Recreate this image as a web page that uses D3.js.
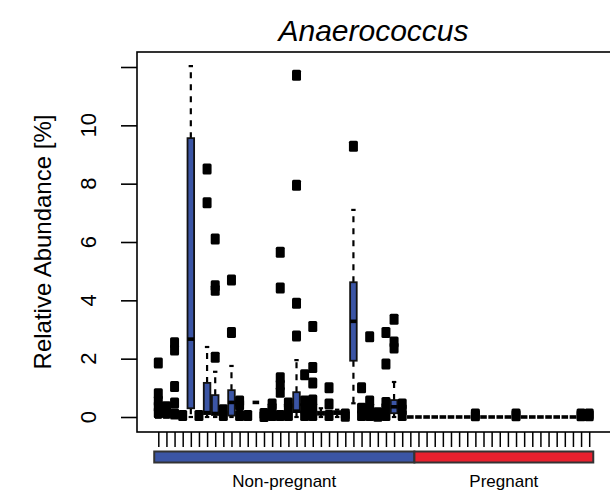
<!DOCTYPE html>
<html><head><meta charset="utf-8">
<script src="https://cdn.jsdelivr.net/npm/d3@7"></script>
<style>body{margin:0;background:#fff}svg{display:block}text{font-family:"Liberation Sans",Arial,Helvetica,sans-serif;fill:#000}</style>
</head><body>
<svg id="chart" width="610" height="497"></svg>
<script>
const title = "Anaerococcus";
const yLabel = "Relative Abundance [%]";
const groups = ["Non-pregnant", "Pregnant"];
const groupSizes = [32, 22];
const groupColors = ["#3b55a5", "#e8202e"];
const yTicks = [0, 2, 4, 6, 8, 10, 12];
const yTickLabels = ["0", "2", "4", "6", "8", "10", ""];

// per-subject box summaries (subjects 1..54, left to right)
const whiskerLow = [0,0,0,0,0,0,0,0,0,0, 0,0,0.5,0,0,0,0,0,0,0, 0,0,0,0,0.47,0,0,0,0,0, 0,0,
  0,0,0,0,0,0,0,0,0,0, 0,0,0,0,0,0,0,0,0,0, 0,0];
const q1 = [0,0,0,0,0.3,0,0.1,0.07,0,0.05, 0,0,0.5,0,0,0,0,0.17,0,0, 0.08,0,0.1,0,1.93,0,0,0,0,0.13, 0,0,
  0,0,0,0,0,0,0,0,0,0, 0,0,0,0,0,0,0,0,0,0, 0,0];
const median = [0,0,0,0,2.67,0,0.15,0.12,0,0.5, 0,0,0.5,0,0,0,0,0.2,0,0, 0.12,0,0.15,0,3.28,0,0,0,0,0.35, 0,0,
  0,0,0,0,0,0,0,0,0,0, 0,0,0,0,0,0,0,0,0,0, 0,0];
const q3 = [0,0,0,0,9.56,0,1.17,0.75,0,0.92, 0,0,0.5,0,0,0,0,0.85,0,0, 0.18,0,0.2,0,4.62,0,0,0,0,0.58, 0,0,
  0,0,0,0,0,0,0,0,0,0, 0,0,0,0,0,0,0,0,0,0, 0,0];
const whiskerHigh = [0,0,0,0,12.03,0,2.4,1.55,0,1.75, 0,0,0.5,0,0,0,0,1.95,0,0, 0.3,0,0.25,0,7.1,0,0,0,0,1.2, 0,0,
  0,0,0,0,0,0,0,0,0,0, 0,0,0,0,0,0,0,0,0,0, 0,0];
const outliers = [
  [1.85,0.8,0.55,0.35,0.15], [0.35,0.15], [2.55,2.3,1.05,0.48,0.1], [0.05], [], [0.05],
  [8.5,7.35], [6.1,4.5,4.35,2.05], [0.25,0.05], [4.7,2.9], [0.55,0.42,0.05], [0.05],
  [], [0.12,0.02], [0.45,0.3,0.05], [5.65,4.42,1.35,1.1,0.85,0.05], [0.48,0.3,0.05],
  [11.72,7.95,3.9,2.78], [1.45,0.55,0.3,0.05], [3.1,1.7,1.17,0.58,0.3,0.05], [],
  [1.0,0.45,0.05], [], [0.1,0.03], [9.28], [1.0,0.3,0.05], [2.75,0.55,0.3,0.05],
  [0.15,0.03], [2.9,1.82,0.5,0.3,0.05], [3.35,2.57,2.37], [0.45,0.25,0.05], [],
  [],[],[],[],[],[],[], [0.1,0.04], [],[],[],[], [0.1,0.04], [],[],[],[],[],[],[], [0.1,0.04], [0.1,0.04]
];

const subjects = whiskerLow.map((_, i) => "S" + (i + 1));
const groupOf = subjects.map((_, i) => i < groupSizes[0] ? 0 : 1);

const svg = d3.select("#chart");
const plot = {left: 137, right: 612, top: 52, bottom: 432};

const x = d3.scalePoint().domain(subjects).range([158.3, 589.2]);
const step = x.step();
const y = d3.scaleLinear().domain([0, 12]).range([417, 67]);
const bw = 6.6;

// frame
svg.append("rect").attr("x", plot.left).attr("y", plot.top)
  .attr("width", plot.right - plot.left).attr("height", plot.bottom - plot.top)
  .attr("fill", "none").attr("stroke", "#000").attr("stroke-width", 1.6);

// y axis
const yAxis = svg.append("g").attr("transform", `translate(${plot.left},0)`)
  .call(d3.axisLeft(y).tickValues(yTicks).tickSize(16).tickFormat(""));
yAxis.select(".domain").remove();
yAxis.selectAll(".tick line").attr("stroke", "#000").attr("stroke-width", 1.6);
svg.append("g").selectAll("text").data(yTicks).join("text")
  .attr("transform", d => `translate(96,${y(d)}) rotate(-90)`)
  .attr("text-anchor", "middle").attr("font-size", 22)
  .text((d, i) => yTickLabels[i]);

// x axis ticks
const xAxis = svg.append("g").attr("transform", `translate(0,${plot.bottom})`)
  .call(d3.axisBottom(x).tickSize(15).tickFormat(""));
xAxis.select(".domain").remove();
xAxis.selectAll(".tick line").attr("stroke", "#000").attr("stroke-width", 1.5);

// boxes
const g = svg.append("g");
subjects.forEach((s, i) => {
  const cx = x(s);
  const col = groupColors[groupOf[i]];
  if (whiskerHigh[i] > q3[i]) {
    g.append("line").attr("x1", cx).attr("x2", cx).attr("y1", y(q3[i])).attr("y2", y(whiskerHigh[i]))
      .attr("stroke", "#000").attr("stroke-width", 2.2).attr("stroke-dasharray", "6,6");
    g.append("line").attr("x1", cx - 2.2).attr("x2", cx + 2.2).attr("y1", y(whiskerHigh[i])).attr("y2", y(whiskerHigh[i]))
      .attr("stroke", "#000").attr("stroke-width", 2.2);
  }
  if (whiskerLow[i] < q1[i]) {
    g.append("line").attr("x1", cx).attr("x2", cx).attr("y1", y(q1[i])).attr("y2", y(whiskerLow[i]))
      .attr("stroke", "#000").attr("stroke-width", 2.2).attr("stroke-dasharray", "6,6");
    g.append("line").attr("x1", cx - 2.2).attr("x2", cx + 2.2).attr("y1", y(whiskerLow[i])).attr("y2", y(whiskerLow[i]))
      .attr("stroke", "#000").attr("stroke-width", 2.2);
  }
  g.append("rect").attr("x", cx - bw / 2).attr("y", y(q3[i]))
    .attr("width", bw).attr("height", Math.max(0, y(q1[i]) - y(q3[i])))
    .attr("fill", col).attr("stroke", "#111").attr("stroke-width", 1.8);
  g.append("line").attr("x1", cx - bw / 2).attr("x2", cx + bw / 2)
    .attr("y1", y(median[i])).attr("y2", y(median[i]))
    .attr("stroke", "#000").attr("stroke-width", 3.6);
  outliers[i].forEach(v => {
    g.append("rect").attr("x", cx - 4.5).attr("y", y(v) - 5.5)
      .attr("width", 9).attr("height", 11).attr("rx", 1.5)
      .attr("fill", "#000");
  });
});

// group bars
let start = 0;
groups.forEach((name, gi) => {
  const first = subjects[start], last = subjects[start + groupSizes[gi] - 1];
  const x0 = x(first) - step / 2, x1 = x(last) + step / 2;
  svg.append("rect").attr("x", x0).attr("y", 451.5).attr("width", x1 - x0).attr("height", 11)
    .attr("fill", groupColors[gi]).attr("stroke", "#333").attr("stroke-width", 2);
  svg.append("text").attr("x", (x0 + x1) / 2).attr("y", 487).attr("text-anchor", "middle")
    .attr("font-size", 17).text(name);
  start += groupSizes[gi];
});

// titles
svg.append("text").attr("x", (plot.left + 610) / 2).attr("y", 41).attr("text-anchor", "middle")
  .attr("font-size", 30).attr("font-style", "italic").text(title);
svg.append("text").attr("transform", `translate(51,${(plot.top + plot.bottom) / 2}) rotate(-90)`)
  .attr("text-anchor", "middle").attr("font-size", 24).text(yLabel);
</script>
</body></html>
